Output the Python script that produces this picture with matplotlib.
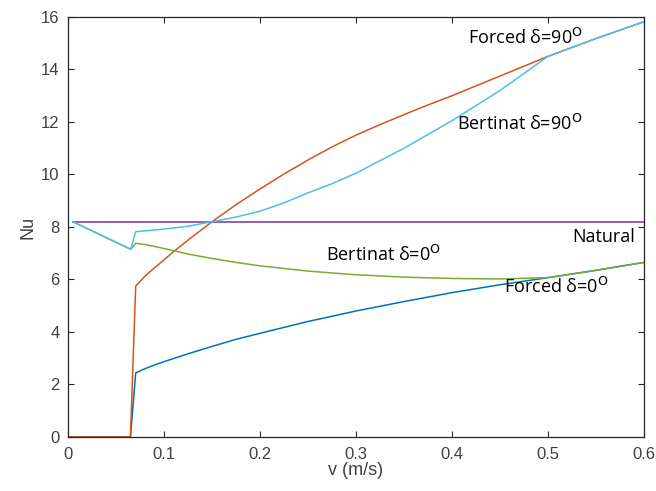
import matplotlib
matplotlib.use("Agg")
import matplotlib.pyplot as plt

# ---- data ----
natural_v = [0.005, 0.6]
natural_nu = [8.2, 8.2]

forced0_v = [0.0, 0.065, 0.0705, 0.08, 0.09, 0.1, 0.125, 0.15, 0.175, 0.2,
             0.25, 0.3, 0.35, 0.4, 0.45, 0.5, 0.55, 0.6]
forced0_nu = [0.0, 0.0, 2.44, 2.6, 2.74, 2.87, 3.17, 3.45, 3.72, 3.95,
              4.4, 4.8, 5.16, 5.5, 5.8, 6.07, 6.35, 6.65]

forced90_v = [0.0, 0.065, 0.0705, 0.08, 0.09, 0.1, 0.11, 0.125, 0.15, 0.175,
              0.2, 0.225, 0.25, 0.275, 0.3, 0.325, 0.35, 0.375, 0.4, 0.45,
              0.5, 0.55, 0.6]
forced90_nu = [0.0, 0.0, 5.75, 6.12, 6.44, 6.75, 7.06, 7.5, 8.2, 8.85,
               9.45, 10.02, 10.55, 11.05, 11.5, 11.9, 12.28, 12.65, 13.0, 13.75,
               14.5, 15.18, 15.82]

bert0_v = [0.005, 0.0653, 0.0705, 0.08, 0.09, 0.1, 0.11, 0.125, 0.15, 0.175,
           0.2, 0.25, 0.3, 0.35, 0.4, 0.45, 0.5, 0.55, 0.6]
bert0_nu = [8.2, 7.15, 7.38, 7.33, 7.26, 7.18, 7.1, 6.97, 6.8, 6.65,
            6.52, 6.32, 6.18, 6.09, 6.04, 6.02, 6.07, 6.35, 6.65]

bert90_v = [0.005, 0.0653, 0.0705, 0.1, 0.125, 0.15, 0.175, 0.2, 0.225, 0.25,
            0.275, 0.3, 0.35, 0.4, 0.45, 0.5, 0.55, 0.6]
bert90_nu = [8.2, 7.15, 7.82, 7.92, 8.03, 8.2, 8.38, 8.6, 8.92, 9.3,
             9.65, 10.05, 11.0, 12.05, 13.2, 14.5, 15.18, 15.82]

# (text, x, y) for the in-plot labels
labels = [
    ("Forced δ=90$^{\\mathsf{O}}$", 0.417, 15.2),
    ("Bertinat δ=90$^{\\mathsf{O}}$", 0.405, 11.92),
    ("Natural", 0.525, 7.62),
    ("Bertinat δ=0$^{\\mathsf{O}}$", 0.269, 6.93),
    ("Forced δ=0$^{\\mathsf{O}}$", 0.454, 5.71),
]

plt.rcParams["font.family"] = ["Liberation Sans", "DejaVu Sans"]
plt.rcParams["mathtext.fontset"] = "dejavusans"

fig = plt.figure(figsize=(6.56, 4.91), dpi=100)
ax = fig.add_axes([0.1037, 0.110, 0.878, 0.8554])

lw = 1.1
ax.plot(forced0_v, forced0_nu, color="#0072BD", lw=lw)
ax.plot(forced90_v, forced90_nu, color="#D95319", lw=lw)
ax.plot(natural_v, natural_nu, color="#7E2F8E", lw=lw)
ax.plot(bert0_v, bert0_nu, color="#77AC30", lw=lw)
ax.plot(bert90_v, bert90_nu, color="#4DBEEE", lw=lw)

for txt, x, y in labels:
    ax.text(x, y, txt, fontsize=13, color="black", va="center", ha="left",
            family=["Open Sans", "DejaVu Sans"])

ax.set_xlim(0, 0.6)
ax.set_ylim(0, 16)
ax.set_xticks([0, 0.1, 0.2, 0.3, 0.4, 0.5, 0.6])
ax.set_xticklabels(["0", "0.1", "0.2", "0.3", "0.4", "0.5", "0.6"])
ax.set_yticks(range(0, 17, 2))

grey = "#262626"
ax.tick_params(direction="in", length=4, width=0.8, top=True, right=True,
               labelsize=12, colors=grey, labelcolor="#404040")
ax.tick_params(axis="x", pad=7)
ax.tick_params(axis="y", pad=6)
for sp in ax.spines.values():
    sp.set_color(grey)
    sp.set_linewidth(0.9)

ax.set_xlabel("v (m/s)", fontsize=13, color="#404040", labelpad=0)
ax.set_ylabel("Nu", fontsize=13, color="#404040", labelpad=3)

fig.savefig("out.png", dpi=100)
